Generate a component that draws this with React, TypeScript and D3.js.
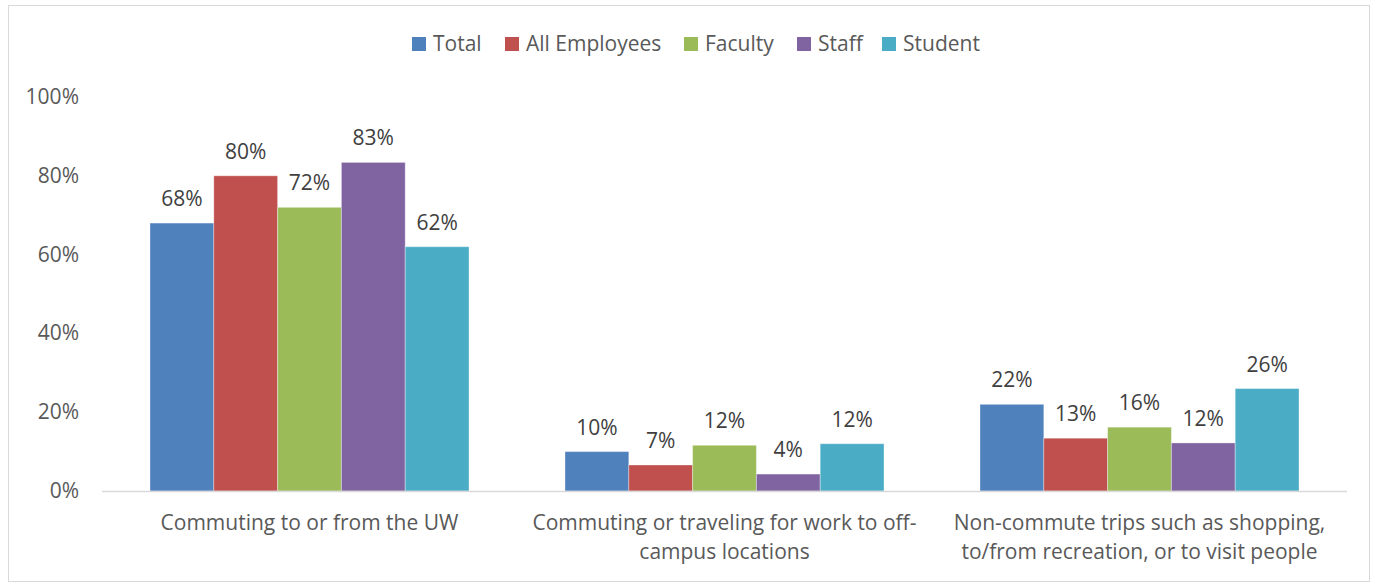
import React from "react";
import * as d3 from "d3";

const categories = [
  ["Commuting to or from the UW"],
  ["Commuting or traveling for work to off-", "campus locations"],
  ["Non-commute trips such as shopping,", "to/from recreation, or to visit people"],
];
const categoryKeys = ["commute", "work", "noncommute"];
const seriesNames = ["Total", "All Employees", "Faculty", "Staff", "Student"];
const seriesColors = ["#4F81BD", "#C0504D", "#9BBB59", "#8064A2", "#4BACC6"];
const totalValues = [0.68, 0.10, 0.22];
const allEmployeesValues = [0.80, 0.066, 0.134];
const facultyValues = [0.72, 0.116, 0.162];
const staffValues = [0.834, 0.043, 0.122];
const studentValues = [0.62, 0.12, 0.26];
const seriesValues = [totalValues, allEmployeesValues, facultyValues, staffValues, studentValues];
const yTicks = [0, 0.2, 0.4, 0.6, 0.8, 1.0];

const W = 1379;
const H = 583;
const FONT = "'Open Sans', sans-serif";
const TXT = "#595959";

export default function App() {
  const plotLeft = 102;
  const plotRight = 1347;
  const y = d3.scaleLinear().domain([0, 1]).range([491, 97]);
  const x0 = d3.scaleBand<string>().domain(categoryKeys).range([plotLeft, plotRight]).padding(0);
  const x1 = d3.scaleBand<string>().domain(seriesNames).range([48, 367]).padding(0);
  const fmt = d3.format(".0%");

  const legendX = [412, 505, 684, 797, 882];

  return (
    <svg width={W} height={H} style={{ position: "absolute", left: 0, top: 0, background: "#fff" }} fontFamily={FONT}>
      <rect x={8.5} y={5.5} width={1361} height={576} fill="#fff" stroke="#d9d9d9" strokeWidth={1} />
      {/* legend */}
      {seriesNames.map((s, i) => (
        <g key={s}>
          <rect x={legendX[i]} y={37} width={14} height={14} fill={seriesColors[i]} />
          <text x={legendX[i] + 21} y={51} fontSize={21} fill={TXT}>{s}</text>
        </g>
      ))}
      {/* y axis labels */}
      {yTicks.map((t) => (
        <text key={t} x={79} y={y(t) + 7} fontSize={21} fill={TXT} textAnchor="end">{fmt(t)}</text>
      ))}
      {/* bars */}
      {categoryKeys.map((c, ci) => (
        <g key={c} transform={`translate(${x0(c)},0)`}>
          {seriesNames.map((s, si) => {
            const v = seriesValues[si][ci];
            const bx = x1(s)!;
            const bw = x1.bandwidth();
            return (
              <g key={s}>
                <rect x={bx} y={y(v)} width={bw} height={y(0) - y(v)} fill={seriesColors[si]} stroke="#ffffff" strokeOpacity={0.35} strokeWidth={1} />
                <text x={bx + bw / 2} y={y(v) - 17} fontSize={21} fill="#404040" textAnchor="middle">{fmt(Math.round(v * 100) / 100)}</text>
              </g>
            );
          })}
          {categories[ci].map((line, li) => (
            <text key={li} x={x0.bandwidth() / 2} y={530 + li * 29} fontSize={21} fill={TXT} textAnchor="middle">{line}</text>
          ))}
        </g>
      ))}
      <line x1={plotLeft} x2={plotRight} y1={y(0) + 0.5} y2={y(0) + 0.5} stroke="#d9d9d9" strokeWidth={1.5} />
    </svg>
  );
}
